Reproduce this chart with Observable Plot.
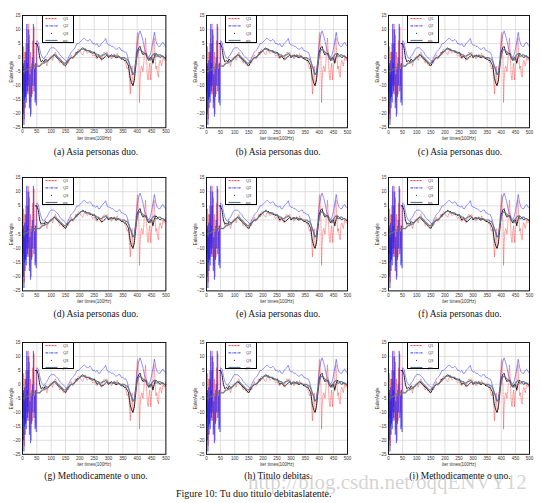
<!DOCTYPE html>
<html><head><meta charset="utf-8">
<script src="https://cdn.jsdelivr.net/npm/d3@7"></script>
<script src="https://cdn.jsdelivr.net/npm/@observablehq/plot@0.6"></script>
<style>
body{margin:0;background:#fff;}
#fig{position:relative;width:542px;height:503px;overflow:hidden;background:#fff;}
.panel{position:absolute;}
.cap{position:absolute;font-family:"Liberation Serif","Times New Roman",serif;font-size:9.5px;white-space:nowrap;transform:translate(-50%,-50%);color:#111;}
.legend{position:absolute;background:#fff;border:0.9px solid #000;box-sizing:border-box;}
.legend svg{position:absolute;left:0;top:0;}
#figcap{position:absolute;left:176px;top:493px;transform:translateY(-50%);font-family:"Liberation Serif",serif;font-size:10px;white-space:nowrap;color:#111;}
#wm{position:absolute;left:248px;top:470px;font-family:"Liberation Serif",serif;font-size:21px;white-space:nowrap;color:rgba(150,150,150,0.42);}
</style></head>
<body><div id="fig"></div>
<script>
// ---- labels ----
const captions = ["(a) Asia personas duo.","(b) Asia personas duo.","(c) Asia personas duo.",
  "(d) Asia personas duo.","(e) Asia personas duo.","(f) Asia personas duo.",
  "(g) Methodicamente o uno.","(h) Titulo debitas.","(i) Methodicamente o uno."];
const figureCaption = "Figure 10: Tu duo titulo debitaslatente.";
const watermark = "http://blog.csdn.net/oqqENVY12";
const seriesNames = ["Q1","Q2","Q3","pic"];
const xLabel = "iter times(100Hz)";
const yLabel = "EulerAngle";
const xTicks = [0,50,100,150,200,250,300,350,400,450,500];
const yTicks = [-25,-20,-15,-10,-5,0,5,10,15];

// ---- series: [iter, angle] ----
const q1Series = [[0,-3],[2,-12],[4,4],[6,-22],[8,2],[10,-14],[12,5],[14,-10],[16,10],[18,-8],[20,12],[22,-13],[24,8],[26,-16],[28,2],[30,-20],[32,-2],[34,-13],[36,6],[38,-4],[40,11],[42,-10],[44,-2],[46,-15],[48,5],[50,-2],
 [55,-3],[60,-3],[65,-2],[70,-1.5],[75,-2],[80,-1],[85,-3],[90,-1],[95,0],[100,0.5],[105,-1],[110,1],[115,2],[120,0],[125,-0.5],[130,-2],[135,-1],[140,-2.5],[145,-3],[150,-2],[155,-1],[160,-2],[165,0],[170,1],[175,-0.5],[180,0],[185,2],[190,1],[195,3],[200,2.5],[205,1.5],[210,1],[215,2.5],[220,3],[225,1.5],[230,2],[235,2],[240,1.5],[245,0.5],[250,1],[255,0],[260,-0.5],[265,1],[270,0.5],[275,-1],[280,1],[285,2],[290,1.5],[295,2],[300,0],[305,1],[310,-0.5],[315,0.5],[320,1],[325,0],[330,1.5],[335,0],[340,0.5],[345,-0.5],[350,0],[355,-1],[360,-2],
 [365,-4],[370,-3],[373,-8],[376,-13],[379,-6],[382,-3],[385,-10],[388,-9],[391,-4],[394,-2],[397,3],[400,8],[402,9],[404,2],[406,-1],[408,-16],[410,-8],[413,-4],[416,-3],[420,-5],[423,-2],[426,3],[429,7],[432,1],[435,-6],[438,-8],[441,-4],[444,-2],[447,-8],[450,-3],[453,-2],[456,5],[459,7],[462,1],[465,-4],[468,-3],[471,-6],[474,-7],[477,-2],[480,-1],[485,-3],[490,0],[495,-1],[500,1]];

const q2Series = [[0,-5],[1,-12],[2,-3],[3,-20],[4,-2],[5,-24],[6,-6],[7,-15],[8,-1],[9,-18],[10,-4],[11,-14],[12,2],[13,-16],[14,-6],[15,12],[16,-13],[17,-2],[18,-12],[19,5],[20,-10],[22,10],[24,-18],[26,-6],[28,-21],[30,-4],[32,-14],[34,0],[36,-10],[38,12],[40,-12],[42,-4],[44,-16],[46,-2],[48,-17],[50,6],
 [55,5.5],[60,3],[65,1],[70,0],[75,-0.5],[80,0.5],[85,1],[90,2],[95,3],[100,3.5],[105,3.5],[110,3.5],[115,3],[120,2.5],[125,2],[130,1],[135,0.5],[140,0],[145,-0.5],[150,-1],[155,-1.5],[160,0],[165,1],[170,2],[175,2.5],[180,3],[185,4],[190,5],[195,5],[200,5.5],[205,6],[210,6.5],[215,7],[220,6.5],[225,6],[230,6],[235,6.5],[240,6],[245,5],[250,5],[255,4.5],[260,5],[265,4],[270,4],[275,5],[280,5.5],[285,6],[290,6.8],[295,5],[300,4.5],[305,4.5],[310,4],[315,4],[320,3.5],[325,3],[330,3],[335,3.5],[340,3.5],[345,2.5],[350,2.5],[355,2],[360,2],[365,1],[370,-1],[375,-3],[380,-4],[385,-6],[390,-5],[395,-1],[400,5],[405,8],[410,9.5],[415,8],[420,6],[425,3.5],[430,2],[435,1],[440,0],[445,1],[450,3],[455,6],[460,9],[465,6],[470,4.5],[475,4],[480,4],[485,5],[490,5.5],[495,4.5],[500,4]];

const q3Series = [[45,5],[50,5],[55,3.5],[60,0],[65,-1.5],[70,-1],[75,-1.5],[80,-0.5],[85,-1],[90,-1],[95,-0.5],[100,0],[105,0.5],[110,1],[115,0.5],[120,0],[125,-0.5],[130,-1],[135,-1.5],[140,-2],[145,-2.5],[150,-3],[155,-2],[160,-1],[165,-0.5],[170,0],[175,0],[180,0.5],[185,1],[190,2],[195,2],[200,2.5],[205,3],[210,3.5],[215,3],[220,3],[225,2.5],[230,2.5],[235,2],[240,2],[245,1.5],[250,2],[255,1],[260,0],[265,0.5],[270,0],[275,-0.5],[280,-0.5],[285,0],[290,0.5],[295,1],[300,0],[305,0.5],[310,1],[315,0.5],[320,0.5],[325,0],[330,0],[335,0.5],[340,0],[345,-0.5],[350,-0.5],[355,-1],[360,-1],[365,-2],[370,-3],[375,-7],[380,-9],[385,-10],[390,-8],[395,-3],[400,2],[405,3.5],[410,4],[415,2],[420,1],[425,1.5],[430,1.5],[435,0],[440,-1],[445,0],[450,0],[455,-2],[460,0.5],[465,1.5],[470,1],[475,0.5],[480,0],[485,0.5],[490,0.5],[495,0],[500,-0.5]];

const picSeries = [[0,-5],[5,-5],[10,-4.5],[15,-4.5],[20,-4],[25,-3.5],[30,-3.5],[35,-3],[40,-3],[45,-3],[50,-3],[55,-3],[60,-3],[65,-2.5],[70,-2],[75,-2],[80,-1.5],[85,-1.5],[90,-1],[95,-0.5],[100,0],[105,0.5],[110,1],[115,1],[120,0.5],[125,0],[130,-0.5],[135,-1],[140,-1.5],[145,-2],[150,-2],[155,-1.5],[160,-1],[165,-0.5],[170,0],[175,0],[180,0.5],[185,1],[190,1.5],[195,2],[200,2.5],[205,3],[210,3],[215,3],[220,2.5],[225,2.5],[230,2.5],[235,2.5],[240,2],[245,2],[250,1.5],[255,1.5],[260,1],[265,1],[270,0.5],[275,0.5],[280,1],[285,1],[290,1.5],[295,1],[300,0.5],[305,0.5],[310,0.5],[315,0.5],[320,1],[325,0.5],[330,0.5],[335,0.5],[340,0],[345,0],[350,0],[355,0],[360,-0.5],[365,-0.5],[370,-1.5],[375,-3],[380,-4.5],[385,-6],[390,-5.5],[395,-2],[400,1],[405,2.5],[410,3],[415,2.5],[420,2],[425,1.5],[430,1],[435,0],[440,-0.5],[445,-1],[450,0.5],[455,1],[460,1.5],[465,0.5],[470,0.5],[475,1],[480,1],[485,0.5],[490,0.5],[495,0],[500,0]];

// ---- layout (plot-area boxes) ----
const colX = [22.3, 205.7, 387.5];
const colW = [143.4, 141, 141];
const rowY = [15, 177.3, 341.5];
const rowH = [112.3, 113.4, 111.8];
const capY = [151.7, 314, 476];

const fig = document.getElementById("fig");
const ML = 24, MR = 3, MT = 3, MB = 17;

function drawPanel(r, c, idx) {
  const px = colX[c], py = rowY[r], w = colW[c], h = rowH[r];
  const chart = Plot.plot({
    width: w + ML + MR, height: h + MT + MB,
    marginLeft: ML, marginRight: MR, marginTop: MT, marginBottom: MB,
    x: {domain: [0, 500]}, y: {domain: [-25, 15]},
    style: {fontFamily: "'Liberation Sans', Arial, sans-serif", fontSize: "4.5px", color: "#333", background: "transparent", overflow: "visible"},
    marks: [
      Plot.gridX(xTicks, {stroke: "#d2d2d2", strokeOpacity: 1, strokeWidth: 0.7}),
      Plot.gridY(yTicks, {stroke: "#d2d2d2", strokeOpacity: 1, strokeWidth: 0.7}),
      Plot.line(q1Series, {x: d => d[0], y: d => d[1], stroke: "#ff2020", strokeWidth: 0.6, strokeOpacity: 0.7, strokeDasharray: "2,1"}),
      Plot.line(q2Series, {x: d => d[0], y: d => d[1], stroke: "#1a1aff", strokeWidth: 0.65, strokeOpacity: 0.75, strokeDasharray: "2.5,0.8,0.8,0.8"}),
      Plot.line(q3Series, {x: d => d[0], y: d => d[1], stroke: "#000", strokeWidth: 0.9, strokeDasharray: "0.9,0.9"}),
      Plot.line(picSeries, {x: d => d[0], y: d => d[1], stroke: "#5f7488", strokeWidth: 1.2, strokeOpacity: 0.9}),
      Plot.axisX(xTicks, {tickSize: 0, tickPadding: 2.5, label: xLabel, labelAnchor: "center", labelOffset: 12, labelArrow: "none"}),
      Plot.axisY(yTicks, {tickSize: 0, tickPadding: 2, label: yLabel, labelAnchor: "center", labelOffset: 13, labelArrow: "none"}),
      Plot.frame({stroke: "#000", strokeWidth: 0.9})
    ]
  });
  const holder = document.createElement("div");
  holder.className = "panel";
  holder.style.left = (px - ML) + "px";
  holder.style.top = (py - MT) + "px";
  holder.appendChild(chart);
  fig.appendChild(holder);

  // legend
  const lg = document.createElement("div");
  lg.className = "legend";
  const lw = 32, lh = 27.5;
  lg.style.left = (px + 19.5) + "px";
  lg.style.top = py + "px";
  lg.style.width = lw + "px";
  lg.style.height = lh + "px";
  const ns = "http://www.w3.org/2000/svg";
  const svg = document.createElementNS(ns, "svg");
  svg.setAttribute("width", lw); svg.setAttribute("height", lh);
  const styles = [
    {stroke: "#ff2020", dash: "2,1", w: 0.9},
    {stroke: "#1a1aff", dash: "2.5,0.8,0.8,0.8", w: 0.9},
    {stroke: null},
    {stroke: "#5f7488", dash: null, w: 1.2}
  ];
  seriesNames.forEach((name, k) => {
    const yy = 2.6 + k * 7.3;
    if (styles[k].stroke) {
      const ln = document.createElementNS(ns, "line");
      ln.setAttribute("x1", 2.5); ln.setAttribute("x2", 14.5);
      ln.setAttribute("y1", yy); ln.setAttribute("y2", yy);
      ln.setAttribute("stroke", styles[k].stroke);
      ln.setAttribute("stroke-width", styles[k].w);
      if (styles[k].dash) ln.setAttribute("stroke-dasharray", styles[k].dash);
      svg.appendChild(ln);
    } else {
      const dt = document.createElementNS(ns, "circle");
      dt.setAttribute("cx", 8.5); dt.setAttribute("cy", yy); dt.setAttribute("r", 0.55);
      dt.setAttribute("fill", "#000");
      svg.appendChild(dt);
    }
    const tx = document.createElementNS(ns, "text");
    tx.setAttribute("x", 20); tx.setAttribute("y", yy);
    tx.setAttribute("dy", "0.35em");
    tx.setAttribute("font-size", "4px");
    tx.setAttribute("font-family", "Liberation Sans, Arial, sans-serif");
    tx.setAttribute("fill", "#333");
    tx.textContent = name;
    svg.appendChild(tx);
  });
  lg.appendChild(svg);
  fig.appendChild(lg);

  const cap = document.createElement("div");
  cap.className = "cap";
  cap.style.left = (px + w / 2 + 2) + "px";
  cap.style.top = capY[r] + "px";
  cap.textContent = captions[idx];
  fig.appendChild(cap);
}

for (let r = 0; r < 3; r++) for (let c = 0; c < 3; c++) drawPanel(r, c, r * 3 + c);

const fc = document.createElement("div");
fc.id = "figcap"; fc.textContent = figureCaption; fig.appendChild(fc);
const wm = document.createElement("div");
wm.id = "wm"; wm.textContent = watermark; fig.appendChild(wm);
</script>
</body></html>
